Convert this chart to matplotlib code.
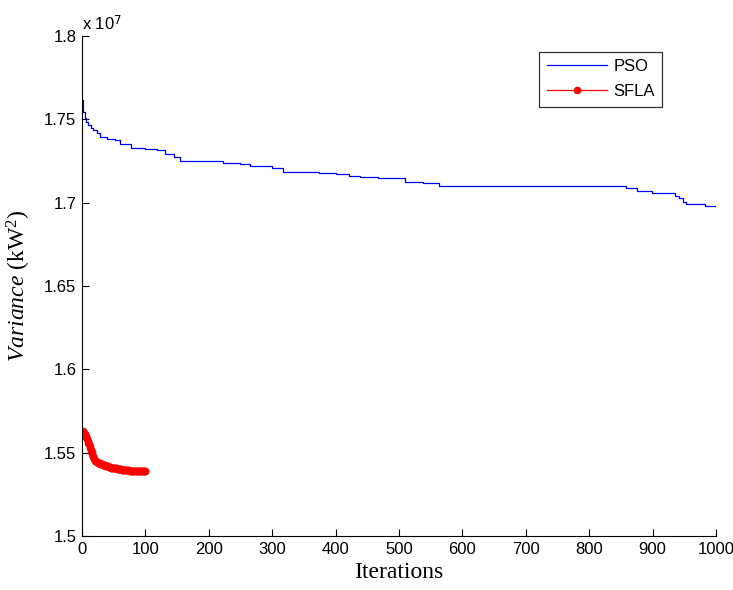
import numpy as np
import matplotlib.pyplot as plt

# PSO best variance (x 1e7 kW^2), stored as step breakpoints
pso_iter = [1, 2, 5, 7, 10, 14, 18, 24, 28, 40, 52, 60, 78, 100, 118, 131, 145,
            155, 223, 249, 265, 300, 317, 374, 400, 421, 438, 467, 509, 538, 563,
            858, 875, 899, 935, 942, 948, 953, 982, 1000]
pso_val = [1.7616, 1.7546, 1.7505, 1.7486, 1.7465, 1.7450, 1.7436, 1.7415, 1.7396,
           1.7384, 1.7375, 1.7352, 1.7330, 1.7322, 1.7316, 1.7290, 1.7272, 1.7252,
           1.7240, 1.7232, 1.7218, 1.7205, 1.7186, 1.7176, 1.7170, 1.7162, 1.7156,
           1.7146, 1.7124, 1.7116, 1.7102, 1.7086, 1.7068, 1.7056, 1.7042, 1.7025,
           1.7005, 1.6992, 1.6982, 1.6982]

# SFLA best variance, iterations 1..100
sfla_val = [1.5630, 1.5624, 1.5618, 1.5612, 1.5606, 1.5600, 1.5594, 1.5582, 1.5570, 1.5560,
            1.5554, 1.5542, 1.5528, 1.5514, 1.5504, 1.5494, 1.5482, 1.5472, 1.5462, 1.5456,
            1.5452, 1.5448, 1.5445, 1.5442, 1.5440, 1.5438, 1.5437, 1.5436, 1.5432, 1.5432,
            1.5430, 1.5430, 1.5426, 1.5426, 1.5424, 1.5424, 1.5422, 1.5422, 1.5420, 1.5420,
            1.5418, 1.5416, 1.5412, 1.5412, 1.5410, 1.5410, 1.5410, 1.5408, 1.5408, 1.5408,
            1.5406, 1.5406, 1.5406, 1.5406, 1.5404, 1.5404, 1.5402, 1.5402, 1.5402, 1.5400,
            1.5400, 1.5400, 1.5398, 1.5398, 1.5398, 1.5396, 1.5396, 1.5396, 1.5396, 1.5394,
            1.5394, 1.5394, 1.5394, 1.5394, 1.5392, 1.5392, 1.5392, 1.5392, 1.5392, 1.5392,
            1.5392, 1.5392, 1.5392, 1.5392, 1.5392, 1.5392, 1.5392, 1.5392, 1.5392, 1.5392,
            1.5392, 1.5392, 1.5392, 1.5392, 1.5392, 1.5392, 1.5392, 1.5392, 1.5392, 1.5392]
sfla_iter = np.arange(1, len(sfla_val) + 1)

x_ticks = np.arange(0, 1001, 100)
y_ticks = [1.5, 1.55, 1.6, 1.65, 1.7, 1.75, 1.8]

plt.rcParams['font.family'] = 'Liberation Sans'
plt.rcParams['mathtext.fontset'] = 'custom'
plt.rcParams['mathtext.rm'] = 'Liberation Serif'
plt.rcParams['mathtext.it'] = 'Liberation Serif:italic'

fig = plt.figure(figsize=(7.33, 5.90), dpi=100)
ax = fig.add_axes([0.1119, 0.0915, 0.8649, 0.8475])

ax.plot(pso_iter, pso_val, color='blue', lw=0.9, drawstyle='steps-post', label='PSO')
ax.plot(sfla_iter, sfla_val, color='red', lw=0.9, marker='o', ms=5.5,
        markeredgewidth=0, label='SFLA')

ax.set_xlim(0, 1000)
ax.set_ylim(1.5, 1.8)
ax.set_xticks(x_ticks)
ax.set_yticks(y_ticks)
ax.set_yticklabels(['%g' % v for v in y_ticks])
ax.tick_params(direction='in', length=5, labelsize=12, width=0.8, pad=4)
for s in ['top', 'right']:
    ax.spines[s].set_visible(False)

ax.text(0, 1.006, r'x 10$^{\mathsf{7}}$', transform=ax.transAxes, fontsize=12,
        ha='left', va='bottom')
ax.set_xlabel('Iterations', family='Liberation Serif', fontsize=17, labelpad=4)
ax.set_ylabel(r'$\mathit{Variance}$ (kW$^2$)', family='Liberation Serif',
              fontsize=17, labelpad=8)

leg = ax.legend(loc='upper left', bbox_to_anchor=(539 / 733, 1 - 51.7 / 590),
                bbox_transform=fig.transFigure, borderaxespad=0, fancybox=False,
                edgecolor='black', fontsize=12, handlelength=3.6,
                borderpad=0.45, labelspacing=0.6, handletextpad=0.4)
leg.get_frame().set_linewidth(0.9)

fig.savefig('out.png', dpi=100)
